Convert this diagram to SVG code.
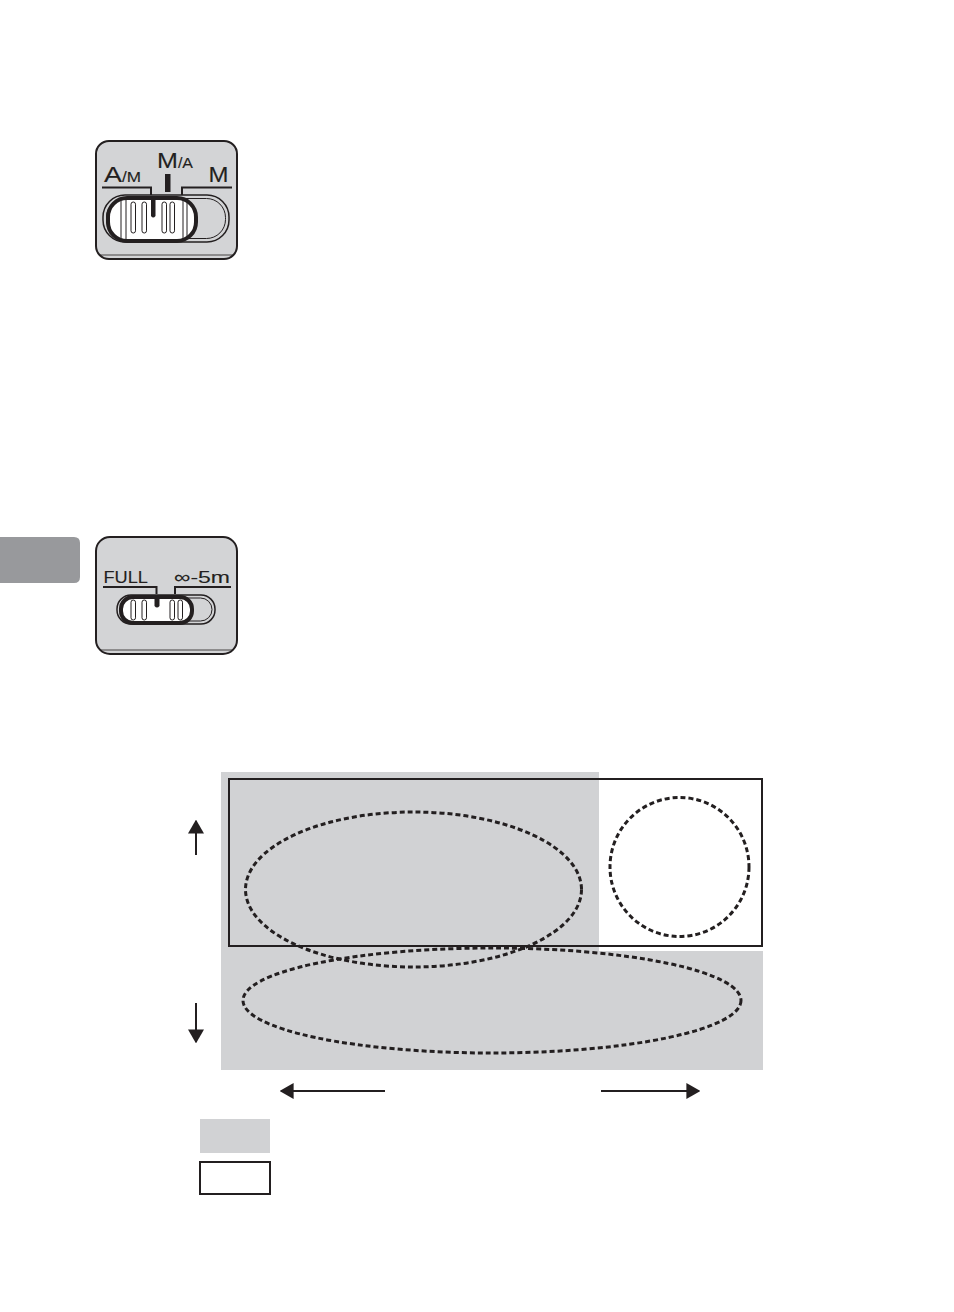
<svg xmlns="http://www.w3.org/2000/svg" width="954" height="1312" viewBox="0 0 954 1312">
<defs>
<style>
.panel{fill:#d3d4d6;stroke:#231f20;stroke-width:2}
.lbl{font-family:"Liberation Sans",Arial,sans-serif;fill:#231f20;stroke:#231f20;stroke-width:0.12}
.ln{fill:none;stroke:#231f20;stroke-width:2}
.track{fill:#d3d4d6;stroke:#231f20;stroke-width:1.5}
.knob{fill:#fff;stroke:#231f20;stroke-width:4}
.rib{fill:#fff;stroke:#231f20;stroke-width:1}
.dash{fill:none;stroke:#231f20;stroke-width:3;stroke-dasharray:5 3}
.arr{stroke:#231f20;stroke-width:2;fill:none}
</style>
<marker id="ahb" viewBox="0 0 10 10" refX="9" refY="5" markerWidth="14" markerHeight="16" markerUnits="userSpaceOnUse" orient="auto" preserveAspectRatio="none">
<path d="M0,0 L10,5 L0,10 z" fill="#231f20"/>
</marker>
</defs>
<rect width="954" height="1312" fill="#fff"/>

<g id="tab">
<path d="M0,537 H74 Q80,537 80,543 V577 Q80,583 74,583 H0 Z" fill="#98999c"/>
</g>

<g id="switch-am">
<rect class="panel" x="96" y="141" width="141" height="118" rx="13"/>
<line x1="100" y1="255" x2="233" y2="255" stroke="#231f20" stroke-width="0.8"/>
<text class="lbl" x="104" y="182" font-size="22" textLength="37" lengthAdjust="spacingAndGlyphs">A<tspan font-size="14">/M</tspan></text>
<text class="lbl" x="157" y="167.5" font-size="22" textLength="36" lengthAdjust="spacingAndGlyphs">M<tspan font-size="14">/A</tspan></text>
<text class="lbl" x="208.5" y="182" font-size="22" textLength="20" lengthAdjust="spacingAndGlyphs">M</text>
<path class="ln" d="M102,187.5 H151 V196"/>
<path class="ln" d="M232,187.5 H182 V196"/>
<rect x="165" y="174" width="5.5" height="18" fill="#231f20"/>
<rect class="track" x="103" y="195" width="126" height="47" rx="22"/>
<rect x="106.5" y="198.5" width="119" height="40" rx="19" fill="none" stroke="#231f20" stroke-width="1"/>
<rect class="knob" x="108" y="198" width="88" height="43" rx="19"/>
<line x1="121" y1="201" x2="121" y2="238" stroke="#231f20" stroke-width="1"/>
<line x1="126" y1="200" x2="126" y2="239" stroke="#231f20" stroke-width="1"/>
<line x1="183" y1="200" x2="183" y2="239" stroke="#231f20" stroke-width="1"/>
<line x1="187" y1="201" x2="187" y2="238" stroke="#231f20" stroke-width="1"/>
<rect class="rib" x="131" y="202" width="4.5" height="31" rx="2.2"/>
<rect class="rib" x="142" y="202" width="4.5" height="31" rx="2.2"/>
<rect class="rib" x="162" y="202" width="4.5" height="31" rx="2.2"/>
<rect class="rib" x="170" y="202" width="4.5" height="31" rx="2.2"/>
<path d="M151,198 H155.5 V216 Q153.2,219 151,216 Z" fill="#231f20"/>
</g>

<g id="switch-full">
<rect class="panel" x="96" y="537" width="141" height="117" rx="14"/>
<line x1="100" y1="650" x2="233" y2="650" stroke="#231f20" stroke-width="0.8"/>
<text class="lbl" x="103.5" y="582.5" font-size="17" textLength="44.5" lengthAdjust="spacingAndGlyphs">FULL</text>
<text class="lbl" x="174" y="582.5" font-size="17" textLength="56" lengthAdjust="spacingAndGlyphs">∞-5m</text>
<path class="ln" d="M103,587 H156.5 V594"/>
<path class="ln" d="M231,587 H175 V594"/>
<rect class="track" x="117" y="595" width="98" height="29" rx="14"/>
<rect x="120" y="598" width="92" height="23" rx="11.5" fill="none" stroke="#231f20" stroke-width="1"/>
<rect class="knob" x="121" y="597" width="71" height="26" rx="12"/>
<rect class="rib" x="131" y="600" width="4.5" height="20" rx="2.2"/>
<rect class="rib" x="142" y="600" width="4.5" height="20" rx="2.2"/>
<rect class="rib" x="170" y="600" width="4.5" height="20" rx="2.2"/>
<rect class="rib" x="178" y="600" width="4.5" height="20" rx="2.2"/>
<path d="M154.5,597 H159.5 V606 Q157,609 154.5,606 Z" fill="#231f20"/>
</g>

<g id="chart">
<path d="M221,772 H599 V951 H763 V1070 H221 Z" fill="#d1d2d4"/>
<rect x="229" y="779" width="533" height="167" fill="none" stroke="#231f20" stroke-width="2"/>
<ellipse class="dash" cx="413.5" cy="889.5" rx="168" ry="77.5"/>
<circle class="dash" cx="679.5" cy="867" r="69.5"/>
<ellipse class="dash" cx="492" cy="1000.5" rx="249" ry="52.5"/>
</g>

<g id="connectors">
<line class="arr" x1="196" y1="855" x2="196" y2="821" marker-end="url(#ahb)"/>
<line class="arr" x1="196" y1="1003" x2="196" y2="1042" marker-end="url(#ahb)"/>
<line class="arr" x1="385" y1="1091" x2="281" y2="1091" marker-end="url(#ahb)"/>
<line class="arr" x1="601" y1="1091" x2="699" y2="1091" marker-end="url(#ahb)"/>
</g>

<g id="legend">
<rect x="200" y="1119" width="70" height="34" fill="#d1d2d4"/>
<rect x="200" y="1162" width="70" height="32" fill="#fff" stroke="#231f20" stroke-width="2"/>
</g>
</svg>
